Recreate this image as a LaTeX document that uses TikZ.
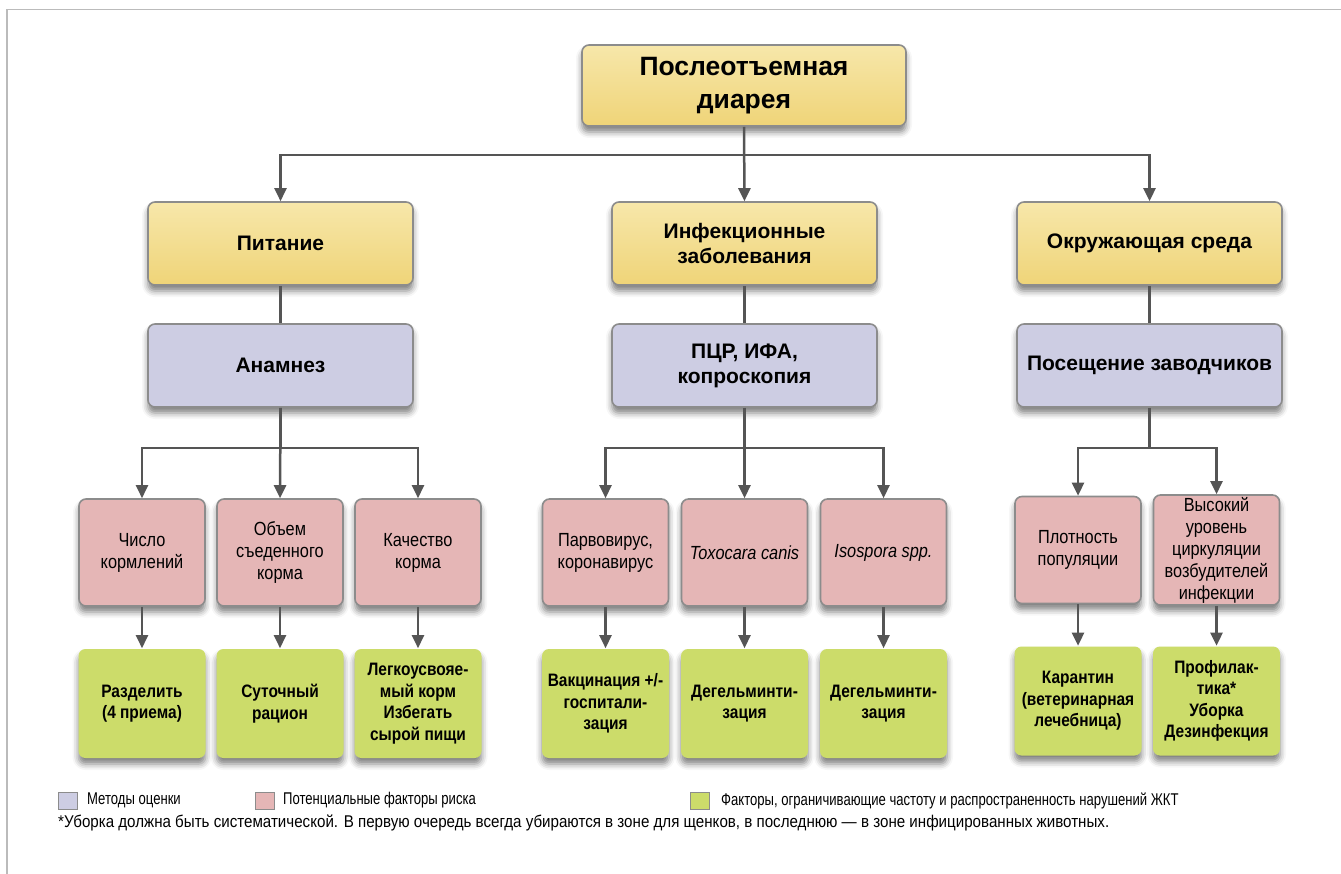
\documentclass[tikz,border=0pt]{standalone}
\usepackage{fontspec}
\setmainfont{Liberation Sans}
\newfontfamily\narrowfont{Liberation Sans}[FakeStretch=0.86]
\newfontfamily\legendfont{Liberation Sans}[FakeStretch=0.77]
\newfontfamily\notefont{Liberation Sans}[FakeStretch=0.89]
\usetikzlibrary{arrows.meta,shadows.blur}
\definecolor{yellowtop}{HTML}{F7E7AA}
\definecolor{yellowbot}{HTML}{EFD478}
\definecolor{methodblue}{HTML}{CDCDE3}
\definecolor{riskpink}{HTML}{E5B6B6}
\definecolor{helpgreen}{HTML}{CCDC6A}
\definecolor{boxline}{HTML}{8C8C8C}
\definecolor{arrowgray}{HTML}{555555}
\definecolor{framegray}{HTML}{BBBBBB}
\tikzset{
	box/.style={rectangle, rounded corners=7pt, draw=boxline, line width=1.6pt, inner sep=2pt, align=center,
		blur shadow={shadow xshift=0pt, shadow yshift=-6pt, shadow blur radius=6pt, shadow opacity=50}},
	headbox/.style={box, top color=yellowtop, bottom color=yellowbot, minimum width=265pt, minimum height=83pt,
		font=\bfseries\fontsize{21}{25}\selectfont},
	methodbox/.style={box, fill=methodblue, minimum width=265pt, minimum height=83pt,
		font=\bfseries\fontsize{21}{25}\selectfont},
	riskbox/.style={box, fill=riskpink, minimum width=126pt, minimum height=107pt,
		font=\narrowfont\fontsize{19}{22}\selectfont},
	helpbox/.style={box, draw=none, fill=helpgreen, minimum width=127pt, minimum height=109pt,
		font=\narrowfont\bfseries\fontsize{18}{21.5}\selectfont},
	arr/.style={draw=arrowgray, line width=2.5pt, -{Triangle[width=12pt,length=13pt]}},
	link/.style={draw=arrowgray, line width=2.5pt},
	legsq/.style={draw=boxline, line width=1pt, minimum width=19pt, minimum height=17pt, inner sep=0pt},
	legtext/.style={anchor=west, inner sep=0pt, font=\legendfont\fontsize{17}{20}\selectfont}
}

\begin{document}
\begin{tikzpicture}[x=1pt, y=-1pt]
		%%%%% START %%%%%
		\useasboundingbox (0,0) rectangle (1341,874);
		\draw[framegray, line width=1.5pt] (7,874) -- (7,9.5) -- (1341,9.5);
		
		\node[headbox, minimum width=324pt, minimum height=81pt, font=\bfseries\fontsize{26.5}{33}\selectfont]
			(diarrhea) at (744,85.5) {Послеотъемная\\диарея};
		
		\node[headbox] (food) at (280.5,243.5) {Питание};
		\node[headbox] (infect) at (744.5,243.5) {Инфекционные\\заболевания};
		\node[headbox] (envir) at (1149.5,243.5) {Окружающая среда};
		
		\node[methodbox] (history) at (280.5,365.5) {Анамнез};
		\node[methodbox] (lab) at (744.5,365.5) {ПЦР, ИФА,\\копроскопия};
		\node[methodbox] (visit) at (1149.5,365.5) {Посещение заводчиков};
		
		\node[riskbox] (meals) at (142,552.5) {Число\\кормлений};
		\node[riskbox] (volume) at (280,552.5) {Объем\\съеденного\\корма};
		\node[riskbox] (quality) at (418,552.5) {Качество\\корма};
		\node[riskbox] (virus) at (605.5,552.5) {Парвовирус,\\коронавирус};
		\node[riskbox] (toxo) at (744.5,552.5) {\itshape Toxocara canis};
		\node[riskbox] (iso) at (883.5,552.5) {\itshape Isospora spp.};
		\node[riskbox] (density) at (1078,550) {Плотность\\популяции};
		\node[riskbox] (germs) at (1216.5,550) {Высокий\\уровень\\циркуляции\\возбудителей\\инфекции};
		
		\node[helpbox] (split) at (142,703.5) {Разделить\\(4 приема)};
		\node[helpbox] (ration) at (280,703.5) {Суточный\\рацион};
		\node[helpbox] (easy) at (418,703.5) {Легкоусвояе-\\мый корм\\Избегать\\сырой пищи};
		\node[helpbox] (vacc) at (605.5,703.5) {Вакцинация +/-\\госпитали-\\зация};
		\node[helpbox] (worm) at (744.5,703.5) {Дегельминти-\\зация};
		\node[helpbox] (worm2) at (883.5,703.5) {Дегельминти-\\зация};
		\node[helpbox] (quar) at (1078,701) {Карантин\\(ветеринарная\\лечебница)};
		\node[helpbox] (prev) at (1216.5,701) {Профилак-\\тика*\\Уборка\\Дезинфекция};
		
		\draw[arr] (diarrhea.south) -- ++(0,28) -| (food.north);
		\draw[arr] (diarrhea.south) -- (infect.north);
		\draw[arr] (diarrhea.south) -- ++(0,28) -| (envir.north);
		
		\draw[link] (food) -- (history);
		\draw[link] (infect) -- (lab);
		\draw[link] (envir) -- (visit);
		
		\draw[arr] (history.south) -- ++(0,40) -| (meals.north);
		\draw[arr] (history.south) -- (volume.north);
		\draw[arr] (history.south) -- ++(0,40) -| (quality.north);
		\draw[arr] (lab.south) -- ++(0,40) -| (virus.north);
		\draw[arr] (lab.south) -- (toxo.north);
		\draw[arr] (lab.south) -- ++(0,40) -| (iso.north);
		\draw[arr] (visit.south) -- ++(0,40) -| (density.north);
		\draw[arr] (visit.south) -- ++(0,40) -| (germs.north);
		
		\draw[arr] (meals) -- (split);
		\draw[arr] (volume) -- (ration);
		\draw[arr] (quality) -- (easy);
		\draw[arr] (virus) -- (vacc);
		\draw[arr] (toxo) -- (worm);
		\draw[arr] (iso) -- (worm2);
		\draw[arr] (density) -- (quar);
		\draw[arr] (germs) -- (prev);
		
		% legend
		\node[legsq, fill=methodblue] (legmethod) at (67.5,800.5) {};
		\node[legtext] at (87,800.5) {Методы оценки};
		\node[legsq, fill=riskpink] (legrisk) at (264.5,800.5) {};
		\node[legtext] at (283,800.5) {Потенциальные факторы риска};
		\node[legsq, fill=helpgreen] (leghelp) at (699.5,800.5) {};
		\node[legtext] at (721,800.5) {Факторы, ограничивающие частоту и распространенность нарушений ЖКТ};
		\node[legtext, font=\notefont\fontsize{17}{20}\selectfont] (footnote) at (58,823)
			{*Уборка должна быть систематической. В первую очередь всегда убираются в зоне для щенков, в последнюю — в зоне инфицированных животных.};
		%%%%% END %%%%%
\end{tikzpicture}
\end{document}
